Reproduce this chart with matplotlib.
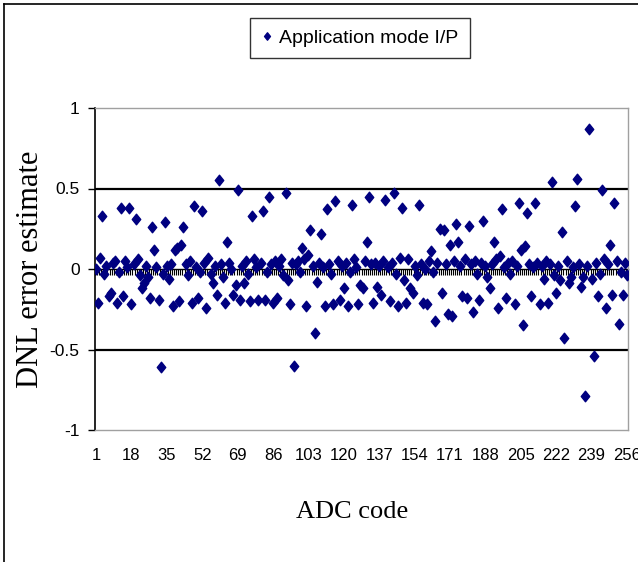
import matplotlib
matplotlib.use('Agg')
import matplotlib.pyplot as plt
from matplotlib.path import Path
from matplotlib.lines import Line2D
import numpy as np

# ---------------- data ----------------
codes = list(range(1, 257))
dnl = [
    0.00, -0.21, 0.07, 0.33, -0.03, 0.02, -0.17, -0.15, 0.04, 0.05,
    -0.21, -0.02, 0.38, -0.17, 0.05, 0.01, 0.38, -0.22, 0.03, 0.31,
    0.06, -0.04, -0.12, -0.09, 0.02, -0.05, -0.18, 0.26, 0.12, 0.01,
    -0.19, -0.61, -0.03, 0.29, 0.02, -0.06, 0.03, -0.23, 0.12, 0.13,
    -0.20, 0.15, 0.26, 0.03, -0.04, 0.05, -0.21, 0.39, 0.01, -0.18,
    -0.02, 0.36, 0.04, -0.24, 0.07, -0.03, -0.09, 0.02, -0.16, 0.55,
    0.03, -0.05, -0.21, 0.17, 0.04, 0.00, -0.16, -0.10, 0.49, -0.19,
    0.02, -0.09, 0.05, -0.03, -0.20, 0.33, 0.06, 0.01, -0.19, 0.04,
    0.36, -0.19, -0.02, 0.45, 0.03, -0.21, 0.05, -0.18, 0.02, 0.06,
    -0.04, 0.47, -0.07, -0.22, 0.04, -0.60, 0.03, 0.05, -0.02, 0.13,
    0.06, -0.23, 0.09, 0.24, 0.02, -0.40, -0.08, 0.04, 0.22, 0.01,
    -0.23, 0.37, 0.03, -0.03, -0.22, 0.42, 0.05, -0.19, 0.02, -0.12,
    0.04, -0.23, -0.02, 0.40, 0.06, 0.01, -0.22, -0.10, -0.12, 0.05,
    0.17, 0.45, 0.03, -0.21, 0.04, -0.11, 0.02, -0.16, 0.05, 0.43,
    0.01, -0.20, 0.04, 0.47, -0.03, -0.23, 0.07, 0.38, -0.07, -0.21,
    0.06, -0.12, -0.15, 0.02, -0.04, 0.40, 0.03, -0.21, 0.00, -0.22,
    0.05, 0.11, -0.02, -0.32, 0.04, 0.25, -0.15, 0.24, 0.03, -0.28,
    0.15, -0.29, 0.05, 0.28, 0.17, 0.02, -0.17, 0.06, -0.18, 0.27,
    0.03, -0.27, 0.05, -0.03, -0.19, 0.04, 0.30, 0.02, -0.05, -0.12,
    0.03, 0.17, 0.06, -0.24, 0.08, 0.37, 0.01, -0.18, 0.04, -0.03,
    0.05, -0.22, 0.02, 0.41, 0.12, -0.35, 0.14, 0.35, 0.03, -0.17,
    0.01, 0.41, 0.04, -0.22, 0.02, -0.06, 0.05, -0.21, 0.03, 0.54,
    -0.04, -0.15, 0.02, -0.07, 0.23, -0.43, 0.05, -0.09, -0.05, 0.01,
    0.39, 0.56, 0.03, -0.11, -0.05, -0.79, 0.02, 0.87, -0.06, -0.54,
    0.04, -0.17, -0.03, 0.49, 0.06, -0.24, 0.03, 0.15, -0.16, 0.41,
    0.05, -0.34, -0.02, -0.16, 0.04, -0.04,
]
x_tick_labels = [1, 18, 35, 52, 69, 86, 103, 120, 137, 154, 171, 188, 205, 222, 239, 256]
y_ticks = [-1, -0.5, 0, 0.5, 1]
y_tick_labels = ['-1', '-0.5', '0', '0.5', '1']
series_name = 'Application mode I/P'

# ---------------- style ----------------
sans = ['Liberation Sans', 'DejaVu Sans']
serif = ['Liberation Serif', 'DejaVu Serif']
navy = '#000080'

fig = plt.figure(figsize=(6.38, 5.62), dpi=100)
W, H = 638, 562
ax = fig.add_axes([95 / W, (H - 430) / H, 533 / W, 322 / H])

diamond = Path([(0, 1), (0.8, 0), (0, -1), (-0.8, 0), (0, 1)],
               [Path.MOVETO, Path.LINETO, Path.LINETO, Path.LINETO, Path.CLOSEPOLY])

ax.plot(codes, dnl, linestyle='none', marker=diamond, ms=7.6,
        color=navy, mec=navy, label=series_name, zorder=5)

ax.set_xlim(0.5, 256.5)
ax.set_ylim(-1, 1)

for yv in (0.5, -0.5):
    ax.axhline(yv, color='black', lw=1.6, zorder=1)

for side in ('top', 'right', 'bottom'):
    ax.spines[side].set_color('#a0a0a0')
    ax.spines[side].set_linewidth(1.0)
ax.spines['left'].set_color('black')
ax.spines['left'].set_linewidth(1.2)

ax.set_yticks(y_ticks)
ax.set_yticklabels(y_tick_labels, family=sans, fontsize=12.5)
ax.tick_params(axis='y', direction='out', length=5, width=1, pad=6)

ax.set_xticks(x_tick_labels)
ax.set_xticklabels([str(v) for v in x_tick_labels], family=sans, fontsize=12)
ax.tick_params(axis='x', length=0, pad=13)

# category axis crossing at zero with a tick mark at each category boundary
sec = ax.secondary_xaxis(0.5)
sec.set_xticks(np.arange(0.5, 257, 1.0))
sec.set_xticklabels([])
sec.tick_params(axis='x', direction='in', length=4, width=0.8, color='black')
for s in sec.spines.values():
    s.set_color('black')
    s.set_linewidth(1.0)

ax.set_ylabel('DNL error estimate', family=serif, fontsize=22)
ax.yaxis.set_label_coords(-0.094, 0.5)
ax.set_xlabel('ADC code', family=serif, fontsize=19)
ax.xaxis.set_label_coords(0.483, -0.22)

leg = fig.legend(loc='center', bbox_to_anchor=(360 / W, 1 - 38 / H),
                 prop={'family': sans, 'size': 14},
                 frameon=True, fancybox=False, edgecolor='black',
                 handlelength=0.6, handletextpad=0.3, markerscale=0.7,
                 borderpad=0.6)
leg.get_frame().set_linewidth(1.0)

# outer chart border (left and top visible)
fig.add_artist(Line2D([4 / W, 4 / W], [0, 1 - 4 / H], transform=fig.transFigure,
                      color='black', lw=1.2))
fig.add_artist(Line2D([4 / W, 1], [1 - 4 / H, 1 - 4 / H], transform=fig.transFigure,
                      color='black', lw=1.2))

fig.savefig('out.png', dpi=100)
